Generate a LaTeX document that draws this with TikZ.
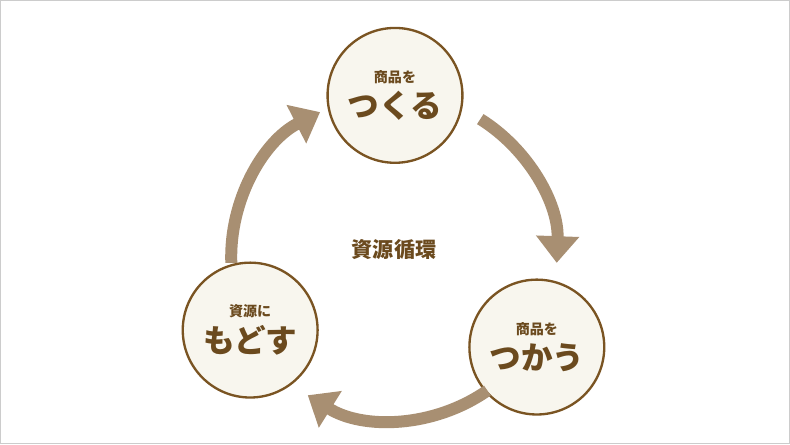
\documentclass[tikz,border=0pt]{standalone}
\usepackage{fontspec}
\newfontfamily\cjk{Noto Sans CJK JP Black}
\usetikzlibrary{arrows.meta}
\definecolor{ring}{HTML}{7A5422}
\definecolor{cream}{HTML}{F8F6EE}
\definecolor{txt}{HTML}{6B4A1E}
\definecolor{arr}{HTML}{A88F72}
\begin{document}
\begin{tikzpicture}[x=0.03cm,y=-0.03cm,
  stage/.style={circle,draw=ring,line width=2pt,fill=cream,minimum size=4.05cm,inner sep=0pt,align=center,text=txt,font=\cjk},
  flow/.style={draw=arr,line width=0.36cm,-{Triangle[width=1.25cm,length=0.8cm]}}]
\draw[gray!40,line width=0.8pt,fill=white] (0,0) rectangle (790,444);
\coordinate (c) at (394,257);
\node[stage] (make) at (395,95) {{\fontsize{12}{14}\selectfont 商品を}\\[5pt]{\fontsize{27}{30}\selectfont つくる}};
\node[stage] (use) at (537,347) {{\fontsize{12}{14}\selectfont 商品を}\\[5pt]{\fontsize{27}{30}\selectfont つかう}};
\node[stage] (back) at (250,330) {{\fontsize{12}{14}\selectfont 資源に}\\[5pt]{\fontsize{27}{30}\selectfont もどす}};
\node[text=txt,font=\cjk\fontsize{18}{20}\selectfont] (label) at (394,249) {資源循環};
\draw[flow] (c) ++(-58:163) arc[start angle=-58,end angle=2,radius=163];
\draw[flow] (c) ++(55:163) arc[start angle=55,end angle=122,radius=163];
\draw[flow] (c) ++(178:163) arc[start angle=178,end angle=243,radius=163];
\end{tikzpicture}
\end{document}
